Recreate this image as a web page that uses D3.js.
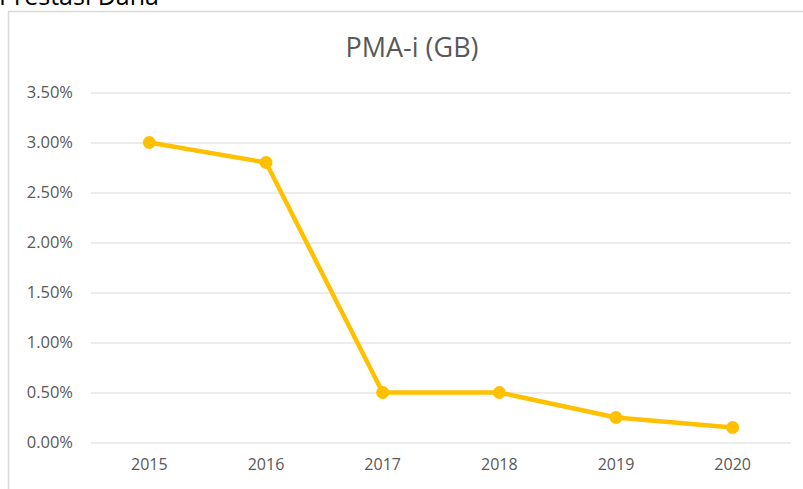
<!DOCTYPE html>
<html>
<head>
<meta charset="utf-8">
<script src="https://cdn.jsdelivr.net/npm/d3@7"></script>
<style>
  body { margin: 0; background: #fff; }
  svg { display: block; font-family: "Open Sans", sans-serif; }
</style>
</head>
<body>
<svg id="chart"></svg>
<script>
// data
const years = ['2015', '2016', '2017', '2018', '2019', '2020'];
const values = [3.00, 2.80, 0.50, 0.50, 0.25, 0.15];
const yTicks = [0, 0.5, 1, 1.5, 2, 2.5, 3, 3.5];

const width = 803, height = 489;
const margin = {top: 92, right: 12, bottom: 47, left: 91};

const svg = d3.select('#chart')
    .attr('width', width)
    .attr('height', height);

// heading above the chart box, cut off by the top edge as in the picture
svg.append('text')
    .attr('x', -1)
    .attr('y', 5)
    .attr('font-size', 25)
    .attr('fill', '#000')
    .text('Prestasi Dana');

// chart box border (runs off the right and bottom)
svg.append('rect')
    .attr('x', 8.5)
    .attr('y', 11.5)
    .attr('width', 820)
    .attr('height', 500)
    .attr('fill', 'none')
    .attr('stroke', '#d9d9d9')
    .attr('stroke-width', 1.5);

const innerW = width - margin.left - margin.right;
const innerH = height - margin.top - margin.bottom;

const chart = svg.append('g')
    .attr('transform', `translate(${margin.left},${margin.top})`);

const xScale = d3.scaleBand()
    .domain(years)
    .range([0, innerW]);

const yScale = d3.scaleLinear()
    .domain([0, 3.5])
    .range([innerH + 0.5, 0.5]);

// title
svg.append('text')
    .attr('x', 412)
    .attr('y', 57)
    .attr('text-anchor', 'middle')
    .attr('font-size', 27)
    .attr('fill', '#595959')
    .text('PMA-i (GB)');

// gridlines + y labels
const yAxis = d3.axisLeft(yScale)
    .tickValues(yTicks)
    .tickSize(-innerW)
    .tickPadding(18)
    .tickFormat(d => d.toFixed(2) + '%');

chart.append('g')
    .attr('class', 'y-axis')
    .call(yAxis)
    .call(g => g.select('.domain').remove())
    .call(g => g.selectAll('line').attr('stroke', '#d9d9d9').attr('stroke-width', 1))
    .call(g => g.selectAll('text').attr('fill', '#595959').attr('font-size', 16.5)
        .attr('font-family', '"Open Sans", sans-serif'));

// x labels
const xAxis = d3.axisBottom(xScale)
    .tickSize(0)
    .tickPadding(17);

chart.append('g')
    .attr('class', 'x-axis')
    .attr('transform', `translate(0,${innerH})`)
    .call(xAxis)
    .call(g => g.select('.domain').remove())
    .call(g => g.selectAll('text').attr('fill', '#595959').attr('font-size', 16)
        .attr('font-family', '"Open Sans", sans-serif'));

const pts = years.map((y, i) => ({year: y, value: values[i]}));
const xPos = d => xScale(d.year) + xScale.bandwidth() / 2;

const line = d3.line()
    .x(xPos)
    .y(d => yScale(d.value));

chart.append('path')
    .datum(pts)
    .attr('d', line)
    .attr('fill', 'none')
    .attr('stroke', '#ffc000')
    .attr('stroke-width', 4.5)
    .attr('stroke-linejoin', 'round');

chart.selectAll('.point')
    .data(pts)
    .join('circle')
    .attr('class', 'point')
    .attr('cx', xPos)
    .attr('cy', d => yScale(d.value))
    .attr('r', 6.5)
    .attr('fill', '#ffc000');
</script>
</body>
</html>
